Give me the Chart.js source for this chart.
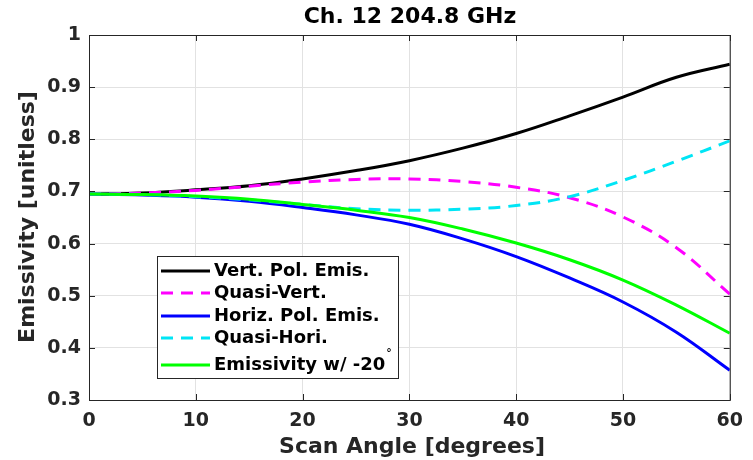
<!DOCTYPE html>
<html><head><meta charset="utf-8">
<script src="https://cdn.jsdelivr.net/npm/chart.js@4/dist/chart.umd.min.js"></script>
<style>html,body{margin:0;padding:0;background:#fff}#wrap{width:753px;height:460px}</style>
</head><body><div id="wrap"><canvas id="c" width="753" height="460"></canvas></div>
<script>
const angles = [0,5,10,15,20,25,30,35,40,45,50,55,60];
const vertPol   = [0.695,0.697,0.703,0.711,0.724,0.740,0.759,0.783,0.811,0.845,0.881,0.919,0.944];
const quasiVert = [0.695,0.697,0.702,0.710,0.718,0.723,0.724,0.719,0.708,0.688,0.651,0.592,0.503];
const horizPol  = [0.695,0.693,0.689,0.681,0.669,0.655,0.637,0.609,0.575,0.534,0.488,0.430,0.357];
const quasiHori = [0.695,0.694,0.690,0.684,0.675,0.667,0.664,0.666,0.673,0.690,0.721,0.758,0.797];
const emis20    = [0.695,0.694,0.691,0.685,0.675,0.664,0.650,0.628,0.601,0.569,0.530,0.482,0.428];
const xTicks = [0,10,20,30,40,50,60];
const yTicks = [0.3,0.4,0.5,0.6,0.7,0.8,0.9,1];
const labels = ['Vert. Pol. Emis.','Quasi-Vert.','Horiz. Pol. Emis.','Quasi-Hori.','Emissivity w/ -20'];
const titleText = 'Ch. 12 204.8 GHz';
const xTitle = 'Scan Angle [degrees]';
const yTitle = 'Emissivity [unitless]';

const FONT = '"DejaVu Sans", sans-serif';
const pts = arr => arr.map((v,i)=>({x:angles[i],y:v}));
const styles = [
  {c:'#000000', d:[]},
  {c:'#ff00ff', d:[12,8]},
  {c:'#0000ff', d:[]},
  {c:'#00e5f5', d:[12,8]},
  {c:'#00ff00', d:[]}
];
const series = [vertPol,quasiVert,horizPol,quasiHori,emis20];
const datasets = series.map((s,i)=>({
  label: labels[i], data: pts(s), borderColor: styles[i].c, borderDash: styles[i].d,
  borderWidth: 3, pointRadius: 0, fill:false, tension:0.4, order: 5-i
}));

const deco = {
  id:'deco',
  afterDraw(chart){
    const ctx = chart.ctx, a = chart.chartArea;
    const xs = chart.scales.x, ys = chart.scales.y;
    ctx.save();
    ctx.strokeStyle = '#262626'; ctx.lineWidth = 1; ctx.setLineDash([]);
    ctx.strokeRect(a.left+0.5, a.top+0.5, a.right-a.left, a.bottom-a.top);
    ctx.beginPath();
    xTicks.forEach(t=>{const p=Math.round(xs.getPixelForValue(t))+0.5;
      ctx.moveTo(p,a.bottom); ctx.lineTo(p,a.bottom-6); ctx.moveTo(p,a.top); ctx.lineTo(p,a.top+6);});
    yTicks.forEach(t=>{const p=Math.round(ys.getPixelForValue(t))+0.5;
      ctx.moveTo(a.left,p); ctx.lineTo(a.left+6,p); ctx.moveTo(a.right,p); ctx.lineTo(a.right-6,p);});
    ctx.stroke();
    ctx.fillStyle = '#000'; ctx.textAlign='center'; ctx.textBaseline='middle';
    ctx.font = 'bold 22px '+FONT;
    ctx.fillText(titleText, 410, 17);
    ctx.fillStyle = '#262626';
    ctx.fillText(xTitle, 412, 447);
    ctx.save(); ctx.translate(28, 217); ctx.rotate(-Math.PI/2);
    ctx.fillText(yTitle, 0, 0); ctx.restore();
    const L=157, T=256, R=398, B=378;
    ctx.fillStyle='#fff'; ctx.fillRect(L,T,R-L,B-T);
    ctx.strokeStyle='#262626'; ctx.lineWidth=1; ctx.strokeRect(L+0.5,T+0.5,R-L,B-T);
    const rows=[271,293,316,338,365];
    ctx.font='bold 18px '+FONT; ctx.textAlign='left'; ctx.textBaseline='middle';
    rows.forEach((y,i)=>{
      ctx.strokeStyle=styles[i].c; ctx.lineWidth=3; ctx.setLineDash(styles[i].d);
      ctx.beginPath(); ctx.moveTo(161,y); ctx.lineTo(210,y); ctx.stroke();
      ctx.setLineDash([]);
      ctx.fillStyle='#000'; ctx.fillText(labels[i],214,y);
      if(i===4){const w=ctx.measureText(labels[i]).width; ctx.font='bold 11px '+FONT; ctx.fillText('°',214+w+1,y-12); ctx.font='bold 18px '+FONT;}
    });
    ctx.restore();
  }
};

new Chart(document.getElementById('c'),{
  type:'line',
  data:{datasets},
  options:{
    responsive:false, animation:false,
    layout:{padding:{top:35,right:22,left:0,bottom:0}},
    plugins:{legend:{display:false},title:{display:false},tooltip:{enabled:false}},
    scales:{
      x:{type:'linear',min:0,max:60,
        afterFit:s=>{s.height=60;},
        afterBuildTicks:s=>{s.ticks=xTicks.map(v=>({value:v}));},
        grid:{color:'#e2e2e2',drawTicks:false},border:{display:false},
        ticks:{padding:10,color:'#262626',font:{family:FONT,size:19,weight:'bold'},maxRotation:0}},
      y:{type:'linear',min:0.3,max:1,
        afterFit:s=>{s.width=89;},
        afterBuildTicks:s=>{s.ticks=yTicks.map(v=>({value:v}));},
        grid:{color:'#e2e2e2',drawTicks:false},border:{display:false},
        ticks:{padding:8,color:'#262626',font:{family:FONT,size:19,weight:'bold'},callback:v=>String(+v.toFixed(1))}}
    }
  },
  plugins:[deco]
});
</script></body></html>
